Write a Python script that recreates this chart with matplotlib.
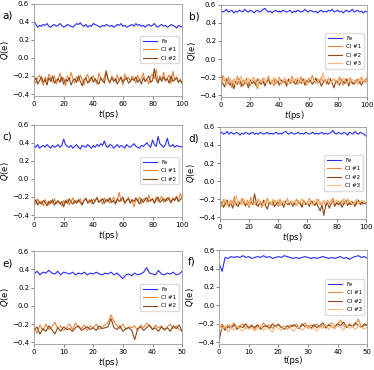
import numpy as np
import matplotlib
matplotlib.use("Agg")
import matplotlib.pyplot as plt

# charges in units of 0.01 e
fe_a = [40, 37, 34, 36, 35, 37, 36, 38, 35, 34, 36, 37, 35, 36, 38, 36, 34, 35, 37, 36, 35, 34, 36, 38, 37, 39, 36,
        35, 37, 34, 36, 35, 38, 37, 36, 35, 34, 36, 35, 37, 36, 35, 36, 34, 35, 37, 36, 38, 35, 36, 34, 35, 36, 37,
        35, 38, 36, 37, 35, 36, 34, 36, 37, 35, 36, 38, 35, 34, 36, 37, 35, 36, 34, 35, 37, 36, 35, 33, 36, 35, 34]
cl1_a = [-24, -28, -22, -19, -25, -30, -21, -26, -18, -23, -27, -20, -29, -24, -17, -26, -22, -31, -20, -25, -16,
         -23, -28, -21, -26, -19, -24, -30, -22, -18, -27, -23, -20, -25, -29, -17, -22, -26, -21, -14, -24, -28,
         -20, -23, -27, -19, -25, -22, -30, -18, -24, -21, -26, -20, -23, -28, -19, -25, -22, -17, -26, -24, -29,
         -21, -18, -23, -13, -27, -20, -24, -16, -26, -22, -19, -28, -15, -25, -21, -27, -23, -29]
cl2_a = [-26, -22, -29, -25, -21, -27, -24, -30, -22, -26, -20, -28, -25, -23, -27, -21, -29, -24, -26, -22, -30,
         -25, -23, -27, -20, -26, -31, -24, -22, -28, -25, -21, -27, -23, -26, -29, -22, -25, -28, -15, -24, -27,
         -22, -26, -23, -29, -25, -21, -27, -24, -22, -28, -26, -23, -25, -21, -27, -24, -29, -22, -26, -23, -20,
         -27, -25, -12, -24, -28, -22, -26, -21, -25, -23, -28, -20, -26, -24, -22, -27, -25, -28]

fe_b = [54, 52, 53, 55, 52, 53, 54, 51, 53, 52, 54, 53, 52, 55, 53, 52, 54, 53, 51, 53, 54, 52, 53, 55, 56, 54, 52,
        53, 51, 53, 54, 52, 53, 52, 54, 53, 52, 53, 54, 51, 53, 52, 54, 53, 52, 53, 55, 53, 52, 54, 53, 52, 53, 51,
        53, 54, 52, 53, 52, 54, 53, 55, 52, 53, 54, 52, 53, 51, 53, 54, 52, 53, 55, 52, 53, 54, 52, 53, 51, 53, 52]
cl1_b = [-30, -18, -24, -28, -20, -26, -32, -22, -27, -19, -25, -31, -23, -28, -21, -26, -30, -24, -20, -27, -33,
         -23, -26, -21, -28, -25, -19, -27, -24, -30, -22, -26, -20, -28, -24, -21, -27, -23, -25, -19, -26, -22,
         -28, -24, -20, -26, -23, -29, -21, -25, -18, -24, -27, -22, -26, -20, -25, -23, -28, -21, -26, -24, -22,
         -27, -25, -20, -24, -29, -22, -26, -23, -21, -28, -24, -26, -22, -27, -20, -25, -23, -21]
cl2_b = [-25, -27, -31, -22, -26, -29, -24, -33, -25, -28, -22, -27, -30, -24, -26, -32, -23, -27, -25, -29, -22,
         -26, -28, -24, -30, -26, -23, -28, -25, -22, -27, -24, -29, -23, -26, -25, -30, -22, -27, -24, -26, -28,
         -23, -25, -27, -22, -29, -24, -26, -23, -28, -25, -21, -27, -24, -30, -26, -23, -25, -28, -22, -27, -32,
         -24, -26, -29, -23, -25, -27, -22, -30, -24, -26, -28, -23, -27, -25, -29, -24, -26, -23]
cl3_b = [-22, -26, -20, -29, -24, -21, -27, -23, -30, -22, -25, -19, -28, -24, -26, -21, -27, -23, -20, -25, -29,
         -22, -26, -24, -21, -27, -25, -23, -28, -20, -26, -24, -22, -27, -25, -21, -24, -28, -23, -26, -22, -25,
         -20, -27, -24, -26, -22, -28, -24, -21, -26, -23, -25, -27, -22, -24, -15, -26, -23, -21, -27, -24, -22,
         -25, -28, -23, -26, -21, -24, -27, -23, -25, -22, -26, -24, -28, -22, -25, -23, -27, -24]

fe_c = [37, 35, 38, 34, 36, 37, 35, 38, 36, 34, 37, 35, 36, 38, 35, 37, 44, 38, 36, 35, 37, 34, 36, 38, 35, 33, 37,
        36, 35, 38, 36, 34, 37, 35, 38, 36, 39, 37, 42, 36, 35, 38, 37, 34, 36, 38, 35, 37, 36, 34, 38, 36, 35, 37,
        39, 36, 35, 34, 37, 36, 38, 40, 37, 35, 43, 38, 36, 47, 39, 37, 35, 38, 45, 37, 36, 38, 35, 37, 36, 36, 35]
cl1_c = [-24, -28, -22, -27, -25, -30, -23, -26, -29, -24, -27, -22, -28, -25, -26, -30, -24, -27, -23, -29, -25,
         -21, -27, -24, -26, -22, -28, -24, -21, -26, -23, -27, -22, -25, -20, -26, -23, -28, -21, -25, -22, -27,
         -24, -20, -26, -23, -15, -25, -22, -28, -24, -20, -26, -23, -31, -22, -25, -20, -27, -23, -21, -26, -18,
         -24, -22, -27, -20, -25, -23, -19, -26, -22, -24, -20, -27, -21, -23, -19, -25, -16, -22]
cl2_c = [-27, -23, -29, -25, -28, -24, -26, -30, -25, -27, -23, -29, -26, -24, -28, -25, -31, -24, -27, -22, -26,
         -28, -24, -27, -23, -26, -29, -24, -22, -27, -25, -23, -28, -24, -21, -26, -24, -22, -27, -23, -25, -21,
         -26, -24, -28, -22, -25, -23, -20, -26, -24, -22, -27, -23, -25, -21, -24, -28, -22, -26, -23, -21, -25,
         -24, -22, -27, -23, -20, -26, -24, -22, -25, -21, -23, -26, -22, -24, -20, -25, -23, -21]

fe_d = [53, 54, 52, 53, 55, 52, 54, 53, 52, 54, 53, 51, 53, 52, 54, 53, 52, 53, 54, 52, 53, 52, 54, 53, 52, 53, 54,
        52, 53, 52, 53, 54, 52, 53, 52, 54, 55, 53, 52, 54, 53, 52, 53, 54, 52, 53, 52, 54, 53, 52, 53, 54, 52, 53,
        52, 53, 54, 52, 53, 52, 53, 54, 56, 53, 52, 54, 53, 52, 54, 53, 51, 54, 53, 52, 55, 53, 52, 54, 53, 52, 50]
cl1_d = [-24, -28, -20, -26, -23, -29, -21, -25, -17, -27, -22, -26, -19, -24, -28, -21, -25, -18, -26, -23, -27,
         -20, -24, -29, -22, -26, -19, -25, -23, -27, -21, -24, -28, -20, -26, -23, -25, -19, -27, -22, -24, -26,
         -20, -25, -23, -28, -21, -26, -24, -19, -25, -22, -27, -23, -20, -26, -24, -22, -28, -21, -25, -23, -19,
         -26, -24, -22, -27, -21, -25, -23, -20, -26, -22, -24, -27, -21, -25, -23, -26, -22, -25]
cl2_d = [-27, -23, -29, -25, -21, -27, -24, -30, -22, -26, -28, -23, -25, -20, -27, -24, -29, -22, -26, -14, -25,
         -28, -23, -26, -21, -27, -31, -24, -26, -22, -28, -25, -23, -27, -24, -29, -22, -26, -25, -23, -28, -24,
         -27, -22, -25, -29, -23, -26, -24, -28, -22, -25, -27, -24, -29, -33, -26, -38, -27, -24, -30, -25, -22,
         -28, -24, -26, -23, -29, -25, -22, -27, -24, -26, -23, -28, -24, -21, -26, -23, -25, -24]
cl3_d = [-22, -26, -24, -20, -28, -23, -25, -21, -27, -16, -24, -22, -26, -20, -25, -23, -28, -21, -24, -26, -22,
         -19, -25, -23, -27, -21, -24, -22, -26, -20, -25, -23, -21, -27, -24, -22, -26, -20, -24, -23, -25, -21,
         -27, -22, -24, -19, -26, -23, -25, -21, -24, -27, -22, -20, -25, -23, -26, -21, -24, -22, -26, -20, -25,
         -23, -21, -24, -22, -26, -19, -25, -23, -21, -24, -26, -22, -20, -25, -23, -21, -24, -23]

fe_e = [35, 38, 34, 37, 36, 39, 36, 35, 38, 34, 37, 36, 35, 37, 34, 36, 35, 37, 34, 36, 35, 37, 35, 34, 36, 35, 37,
        34, 36, 33, 30, 34, 35, 33, 36, 34, 35, 37, 42, 36, 35, 34, 39, 35, 34, 36, 35, 37, 34, 35, 38]
cl1_e = [-24, -30, -21, -27, -20, -26, -23, -18, -25, -22, -27, -24, -20, -26, -19, -23, -25, -21, -27, -22, -24,
         -20, -26, -23, -21, -18, -10, -17, -22, -25, -20, -26, -23, -24, -22, -27, -21, -24, -19, -22, -26, -21,
         -24, -22, -27, -23, -20, -25, -22, -26, -28]
cl2_e = [-27, -23, -31, -25, -28, -22, -26, -31, -24, -28, -23, -26, -25, -28, -24, -22, -27, -25, -23, -26, -24,
         -27, -22, -25, -24, -23, -14, -24, -26, -22, -28, -25, -24, -27, -37, -25, -23, -27, -24, -21, -26, -24,
         -28, -23, -26, -24, -28, -22, -25, -21, -28]

fe_f = [45, 37, 52, 51, 53, 52, 53, 52, 54, 52, 53, 51, 52, 53, 52, 54, 52, 53, 51, 52, 53, 52, 54, 53, 52, 51, 52,
        51, 52, 53, 52, 51, 52, 51, 52, 53, 52, 51, 52, 51, 52, 53, 51, 52, 50, 52, 53, 54, 52, 53, 51]
cl1_f = [-24, -20, -25, -21, -23, -19, -24, -22, -20, -25, -23, -21, -26, -22, -24, -19, -23, -21, -25, -22, -20,
         -24, -22, -26, -21, -23, -20, -24, -22, -19, -25, -21, -23, -20, -24, -22, -25, -21, -19, -23, -20, -16,
         -22, -24, -20, -23, -21, -15, -24, -22, -20]
cl2_f = [-38, -22, -27, -23, -25, -21, -26, -23, -24, -20, -25, -22, -24, -21, -26, -23, -22, -25, -20, -23, -21,
         -24, -26, -22, -24, -21, -23, -25, -20, -23, -22, -25, -21, -24, -22, -19, -24, -21, -23, -25, -20, -22,
         -18, -24, -21, -23, -19, -22, -24, -20, -22]
cl3_f = [-20, -26, -22, -29, -24, -27, -22, -25, -28, -23, -26, -24, -28, -25, -22, -27, -24, -26, -29, -23, -25,
         -27, -22, -26, -24, -28, -25, -23, -27, -24, -22, -26, -24, -28, -23, -25, -21, -26, -23, -25, -22, -24,
         -27, -21, -25, -23, -26, -22, -24, -26, -23]

labels = ["Fe", "Cl #1", "Cl #2", "Cl #3"]
colors = ["#2b2bff", "#e8873c", "#8a4a1c", "#f9bb80"]

panels = [
    ("a)", 100, [fe_a, cl1_a, cl2_a], "$t$(ps)", [0.091, 0.741, 0.396, 0.249]),
    ("b)", 100, [fe_b, cl1_b, cl2_b, cl3_b], "$t$(ps)", [0.591, 0.738, 0.390, 0.249]),
    ("c)", 100, [fe_c, cl1_c, cl2_c], "$t$(ps)", [0.091, 0.414, 0.396, 0.249]),
    ("d)", 100, [fe_d, cl1_d, cl2_d, cl3_d], "$t$(ps)", [0.588, 0.408, 0.390, 0.249]),
    ("e)", 50, [fe_e, cl1_e, cl2_e], "$t$(ps)", [0.091, 0.070, 0.396, 0.251]),
    ("f)", 50, [fe_f, cl1_f, cl2_f, cl3_f], "t(ps)", [0.586, 0.070, 0.396, 0.254]),
]

fig = plt.figure(figsize=(3.74, 3.70), dpi=100)

for tag, tmax, series, xlab, pos in panels:
    ax = fig.add_axes(pos)
    for vals, lab, col in zip(series, labels, colors):
        t = np.linspace(0, tmax, len(vals))
        ax.plot(t, np.array(vals) / 100, color=col, lw=0.8, label=lab)
    ax.set_xlim(0, tmax)
    ax.set_ylim(-0.42, 0.6)
    ax.set_yticks([-0.4, -0.2, 0.0, 0.2, 0.4, 0.6])
    ax.set_xticks(np.arange(0, tmax + 1, tmax // 5))
    ax.tick_params(labelsize=5, length=2, width=0.5, pad=1.5, color="#555555")
    for sp in ax.spines.values():
        sp.set_color("#999999")
        sp.set_linewidth(0.6)
    ax.set_xlabel(xlab, fontsize=6, labelpad=1)
    ax.set_ylabel("$Q$(e)", fontsize=6, labelpad=1)
    ax.legend(loc="center right", fontsize=4, handlelength=2.5, borderpad=0.5,
              labelspacing=0.6, frameon=True, framealpha=1, edgecolor="#dddddd")
    fig.text(pos[0] - 0.085, pos[1] + pos[3] - 0.04, tag, fontsize=7.5)

fig.savefig("out.png", dpi=100)
